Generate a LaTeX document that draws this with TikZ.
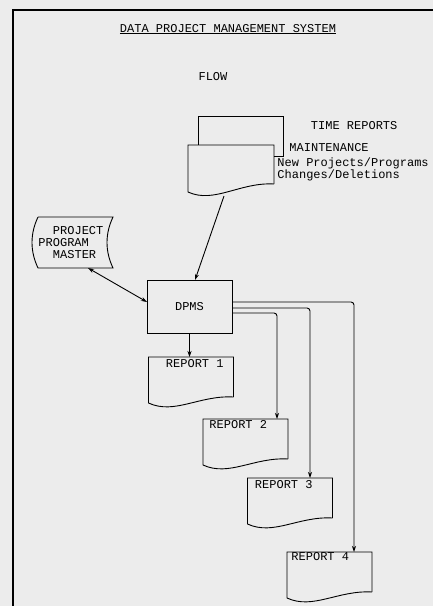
\documentclass[tikz,border=0pt]{standalone}
\usepackage{fontspec}
\setmonofont{Liberation Mono}
\usetikzlibrary{arrows.meta,positioning}
\definecolor{paper}{RGB}{236,236,236}

% document symbol drawn round a named node
\newcommand{\docoutline}[2][6pt]{%
  \draw ([yshift=#1]#2.south east) -- (#2.north east) -- (#2.north west) -- (#2.south west)
    .. controls +(26pt,-12pt) and +(-34pt,2pt) .. ([yshift=#1]#2.south east);}
% stored data symbol drawn round a named node
\newcommand{\storeoutline}[1]{%
  \draw (#1.north west) -- (#1.north east)
    .. controls +(-8pt,-17pt) and +(-8pt,17pt) .. (#1.south east) -- (#1.south west)
    .. controls +(-8pt,17pt) and +(-8pt,-17pt) .. (#1.north west);}

\begin{document}
\begin{tikzpicture}[
  x=1pt, y=-1pt, line width=0.9pt,
  font=\ttfamily\fontsize{12}{12}\selectfont,
  box/.style={draw, minimum width=85pt, minimum height=53pt, inner sep=0pt, outer sep=0pt},
  docbox/.style={minimum width=85pt, minimum height=46pt, inner sep=0pt, outer sep=0pt},
  lbl/.style={inner sep=0pt, anchor=base west},
  arr/.style={-{Stealth[length=6pt,width=4pt]}},
  feed/.style={rounded corners=3pt, -{Stealth[length=6pt,width=4pt]}}
]
\fill[paper] (0,0) rectangle (433,606);
\useasboundingbox (0,0) rectangle (433,606);
\draw[line width=1.3pt] (433,10) -| (13,606);

\node[anchor=base, inner sep=0pt] (title) at (228,32) {\underline{DATA PROJECT MANAGEMENT SYSTEM}};
\node[anchor=base, inner sep=0pt] (flow) at (213,80) {FLOW};

% input cards
\node[docbox, minimum width=85pt, minimum height=40pt] (tr) at (240.5,136) {};
\node[docbox, minimum width=86pt, minimum height=47pt] (mt) at (231,168.5) {};
\draw (tr.west |- mt.north) -- (tr.north west) -- (tr.north east) -- (tr.south east) -- (tr.south -| mt.east);
\docoutline[8pt]{mt}
\node[lbl] (trtxt) at (310.5,129.5) {TIME REPORTS};
\node[lbl] (mttxt) at (289,151.5) {MAINTENANCE};
\node[lbl] (newtxt) at (277,166.5) {New Projects/Programs};
\node[lbl] (chgtxt) at (277,178.5) {Changes/Deletions};

% master file
\node[docbox, minimum width=75pt, minimum height=51pt] (ppm) at (75.5,242.5) {};
\storeoutline{ppm}
\node[lbl] (ppma) at (52.5,234) {PROJECT};
\node[lbl] (ppmb) at (38,246) {PROGRAM};
\node[lbl] (ppmc) at (52.5,258) {MASTER};

\node[box] (dpms) at (189.5,306.5) {DPMS};

% reports
\node[docbox] (r1) at (191,380) {};
\node[docbox] (r2) at (245.5,442) {};
\node[docbox] (r3) at (290,501) {};
\node[docbox] (r4) at (329.5,575) {};
\foreach \r in {r1,r2,r3,r4} {\docoutline{\r}}
\node[lbl] (r1txt) at ([xshift=17pt,yshift=-10.5pt]r1.north west) {REPORT 1};
\node[lbl] (r2txt) at ([xshift=6pt,yshift=-9.5pt]r2.north west) {REPORT 2};
\node[lbl] (r3txt) at ([xshift=7pt,yshift=-10.5pt]r3.north west) {REPORT 3};
\node[lbl] (r4txt) at ([xshift=4pt,yshift=-8.5pt]r4.north west) {REPORT 4};

\coordinate (mtfoot) at ([xshift=-7pt,yshift=-4pt]mt.south);
\draw[arr] (mtfoot) -- ([xshift=5.5pt]dpms.north);
\draw[{Stealth[length=6pt,width=4pt]}-{Stealth[length=6pt,width=4pt]}] ([xshift=-25pt]ppm.south east) -- ([yshift=4.5pt]dpms.west);
\draw[arr] (dpms.south) -- (dpms.south |- r1.north);
\draw[feed] ([yshift=4.5pt]dpms.east) -| ([xshift=24.5pt]r4.north);
\draw[feed] ([yshift=-1.5pt]dpms.east) -| ([xshift=20pt]r3.north);
\draw[feed] ([yshift=-6.5pt]dpms.east) -| ([xshift=31.5pt]r2.north);
\end{tikzpicture}
\end{document}
